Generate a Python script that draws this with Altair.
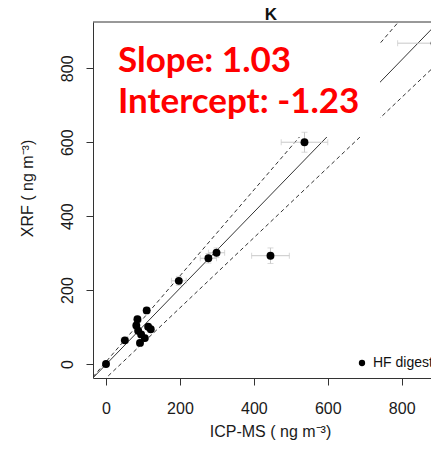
import altair as alt
import pandas as pd

# ---- data ----
icp = [0, 51, 82, 85, 87, 92, 95, 105, 110, 114, 121, 197, 277, 299, 445, 537, 889]
xrf = [0, 64, 104, 121, 90, 57, 80, 70, 145, 101, 94, 225, 286, 301, 293, 600, 868]
icp_err = [5, 10, 8, 8, 8, 8, 8, 8, 8, 8, 8, 20, 22, 22, 51, 63, 100]
xrf_err = [5, 8, 8, 8, 8, 8, 8, 8, 8, 8, 8, 12, 13, 13, 21, 27, 50]
legend_label = "HF digestion"

fit_names = ["fit", "upper", "lower"]
fit_slopes = [1.03, 1.162, 0.949]
fit_intercepts = [-1.23, 6.0, -38.0]

x_ticks = [0, 200, 400, 600, 800]
y_ticks = [0, 200, 400, 600, 800]
x_domain = [-35.2, 879.3]
y_domain = [-37.9, 925.3]

# ---- tables ----
pts = pd.DataFrame({
    "icp": icp, "xrf": xrf,
    "xlo": [a - e for a, e in zip(icp, icp_err)],
    "xhi": [a + e for a, e in zip(icp, icp_err)],
    "ylo": [a - e for a, e in zip(xrf, xrf_err)],
    "yhi": [a + e for a, e in zip(xrf, xrf_err)],
})
rows = []
for n, s, b in zip(fit_names, fit_slopes, fit_intercepts):
    for xv in [x_domain[0], 960]:
        rows.append({"name": n, "x": xv, "y": s * xv + b})
lines = pd.DataFrame(rows)

FONT = "Liberation Sans"
xs = alt.Scale(domain=x_domain, nice=False, zero=False)
ys = alt.Scale(domain=y_domain, nice=False, zero=False)

x_axis = alt.Axis(values=x_ticks, tickSize=7, labelFontSize=16, labelPadding=15,
                  labelFont=FONT, titleFont=FONT, titleFontSize=16,
                  titleFontWeight="normal", titleX=177, titleY=58,
                  titleAlign="center", titleBaseline="alphabetic", grid=False,
                  labelFlush=False)
y_axis = alt.Axis(values=y_ticks, tickSize=7, labelFontSize=16, labelPadding=14,
                  labelAngle=270, labelAlign="center", labelBaseline="alphabetic",
                  labelFont=FONT, titleFont=FONT, titleFontSize=16,
                  titleFontWeight="normal", titleAngle=270, titleX=-61, titleY=166,
                  titleAlign="center", titleBaseline="alphabetic", grid=False,
                  labelFlush=False)

base_lines = alt.Chart(lines)
fit_line = base_lines.transform_filter(alt.datum.name == "fit").mark_line(
    color="#333333", strokeWidth=1, clip=True).encode(
    x=alt.X("x:Q", scale=xs, axis=x_axis, title="ICP-MS ( ng m⁻³)"),
    y=alt.Y("y:Q", scale=ys, axis=y_axis, title="XRF ( ng m⁻³)"),
)
band_lines = base_lines.transform_filter(alt.datum.name != "fit").mark_line(
    color="#333333", strokeWidth=1, strokeDash=[4, 3], clip=True).encode(
    x=alt.X("x:Q", scale=xs), y=alt.Y("y:Q", scale=ys), detail="name:N")

one = alt.Data(values=[{"k": 1}])
white_box = alt.Chart(one).mark_rect(fill="white").encode(
    x=alt.value(15), x2=alt.value(287), y=alt.value(3), y2=alt.value(115))

base = alt.Chart(pts)
ebc = "#c8c8c8"
hbar = base.mark_rule(color=ebc, strokeWidth=1, clip=True).encode(
    x=alt.X("xlo:Q", scale=xs), x2="xhi:Q", y=alt.Y("xrf:Q", scale=ys))
vbar = base.mark_rule(color=ebc, strokeWidth=1, clip=True).encode(
    x=alt.X("icp:Q", scale=xs), y=alt.Y("ylo:Q", scale=ys), y2="yhi:Q")
cap_l = base.mark_tick(color=ebc, orient="vertical", size=6, thickness=1, clip=True).encode(
    x=alt.X("xlo:Q", scale=xs), y=alt.Y("xrf:Q", scale=ys))
cap_r = base.mark_tick(color=ebc, orient="vertical", size=6, thickness=1, clip=True).encode(
    x=alt.X("xhi:Q", scale=xs), y=alt.Y("xrf:Q", scale=ys))
cap_b = base.mark_tick(color=ebc, orient="horizontal", size=6, thickness=1, clip=True).encode(
    x=alt.X("icp:Q", scale=xs), y=alt.Y("ylo:Q", scale=ys))
cap_t = base.mark_tick(color=ebc, orient="horizontal", size=6, thickness=1, clip=True).encode(
    x=alt.X("icp:Q", scale=xs), y=alt.Y("yhi:Q", scale=ys))

points = base.mark_circle(size=62, opacity=1, color="black", clip=True).encode(
    x=alt.X("icp:Q", scale=xs), y=alt.Y("xrf:Q", scale=ys))

leg_sym = alt.Chart(one).mark_circle(size=40, color="black", opacity=1).encode(
    x=alt.value(269), y=alt.value(341))
leg_txt = alt.Chart(one).mark_text(text=legend_label, font=FONT, fontSize=14,
                                   color="#111", align="left", baseline="middle",
                                   clip=True).encode(
    x=alt.value(280), y=alt.value(341))

txt1 = alt.Chart(one).mark_text(text="Slope: 1.03", font="Lato", fontWeight="bold",
                                fontSize=35, color="#ff0000", align="left",
                                baseline="alphabetic").encode(
    x=alt.value(25), y=alt.value(50))
txt2 = alt.Chart(one).mark_text(text="Intercept: -1.23", font="Lato", fontWeight="bold",
                                fontSize=35, color="#ff0000", align="left",
                                baseline="alphabetic").encode(
    x=alt.value(25), y=alt.value(91))
title_txt = alt.Chart(one).mark_text(text="K", font=FONT, fontSize=17,
                                     fontWeight="bold", color="#111",
                                     align="center", baseline="alphabetic").encode(
    x=alt.value(178), y=alt.value(-2))
top_rule = alt.Chart(one).mark_rule(color="#333333", strokeWidth=1).encode(
    x=alt.value(0), x2=alt.value(338), y=alt.value(0))

chart = alt.layer(
    fit_line, band_lines, white_box, hbar, vbar, cap_l, cap_r, cap_b, cap_t,
    points, leg_sym, leg_txt, txt1, txt2, title_txt, top_rule
).properties(
    width=338, height=356,
    autosize=alt.AutoSizeParams(type="none"),
    padding={"left": 85, "top": 14, "right": 0, "bottom": 62},
).configure_view(stroke=None).configure_axis(
    domainColor="#333333", tickColor="#333333", labelColor="#1a1a1a",
    titleColor="#1a1a1a", domainWidth=1, tickWidth=1,
)

chart.save("out.html", embed_options={"renderer": "svg", "actions": False})
